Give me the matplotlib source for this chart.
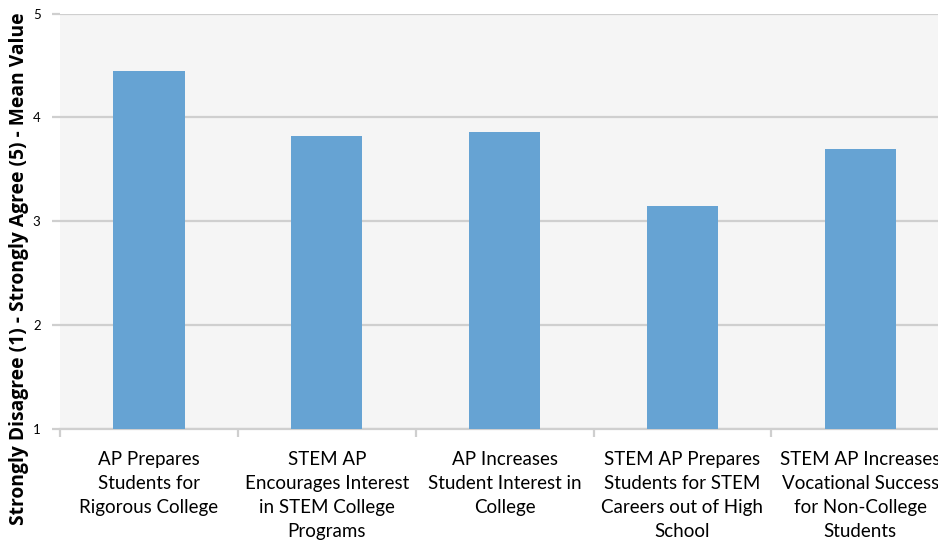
import numpy as np
import matplotlib.pyplot as plt

plt.rcParams['font.family'] = ['Lato', 'DejaVu Sans']

# survey items and mean agreement values
categories = [
    "AP Prepares\nStudents for\nRigorous College",
    "STEM AP\nEncourages Interest\nin STEM College\nPrograms",
    "AP Increases\nStudent Interest in\nCollege",
    "STEM AP Prepares\nStudents for STEM\nCareers out of High\nSchool",
    "STEM AP Increases\nVocational Success\nfor Non-College\nStudents",
]
means = [4.45, 3.82, 3.86, 3.15, 3.70]
y_ticks = [1, 2, 3, 4, 5]

fig = plt.figure(figsize=(9.38, 5.42), dpi=100)
# axes runs a little past the right edge, as in the original export
ax = fig.add_axes([0.064, 0.2085, 0.948, 0.7665])
ax.set_facecolor("#f5f5f5")

x = np.arange(len(categories))
ax.bar(x, np.array(means) - 1, bottom=1, width=0.4, color="#66a3d3", zorder=3)

ax.set_xlim(-0.5, len(categories) - 0.5)
ax.set_ylim(1, 5)
ax.set_yticks(y_ticks)
ax.set_yticklabels([str(t) for t in y_ticks], fontsize=9.5)
ax.yaxis.grid(True, color="#cfcfcf", linewidth=1.6, zorder=0)

ax.set_xticks(x)
ax.set_xticklabels(categories, fontsize=13.5, linespacing=1.5, va="top")
ax.tick_params(axis="x", length=0, pad=16)
ax.set_xticks(np.arange(len(categories) + 1) - 0.5, minor=True)
ax.tick_params(axis="x", which="minor", length=6, width=1.6, color="#cfcfcf")
ax.tick_params(axis="y", length=6, width=1.6, color="#cfcfcf", pad=8)

for s in ["top", "right", "left"]:
    ax.spines[s].set_visible(False)
ax.spines["bottom"].set_color("#cfcfcf")
ax.spines["bottom"].set_linewidth(1.6)

ax.set_ylabel("Strongly Disagree (1) - Strongly Agree (5) - Mean Value",
              fontsize=13.9, fontweight="bold", family=["Open Sans", "DejaVu Sans"])
ax.yaxis.set_label_coords(-0.035, 0.385)

fig.savefig("out.png", dpi=100)
